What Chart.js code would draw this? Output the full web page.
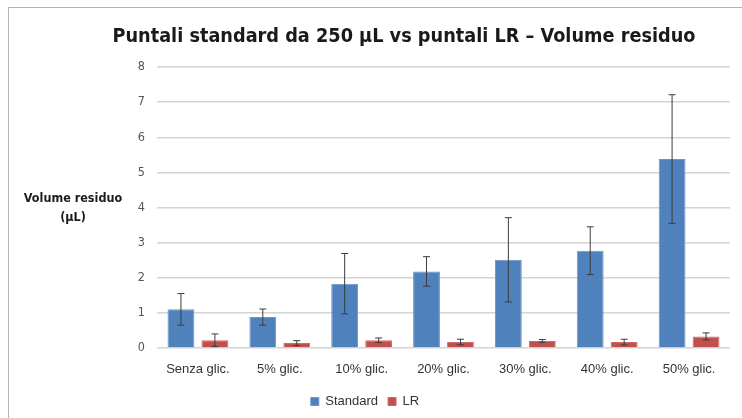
<!DOCTYPE html>
<html>
<head>
<meta charset="utf-8">
<script src="https://cdn.jsdelivr.net/npm/chart.js@4.4.1/dist/chart.umd.min.js"></script>
<style>
  html, body { margin: 0; padding: 0; background: #fff; }
  #frame { position: absolute; left: 8px; top: 7px; width: 800px; height: 450px; border: 1px solid #b4b4b4; }
  #wrap { position: absolute; left: 0; top: 0; width: 742px; height: 418px; }
</style>
</head>
<body>
<div id="frame"></div>
<div id="wrap"><canvas id="chart" width="742" height="418"></canvas></div>
<script>
const categories = ['Senza glic.', '5% glic.', '10% glic.', '20% glic.', '30% glic.', '40% glic.', '50% glic.'];
const standardValues = [1.10, 0.88, 1.83, 2.18, 2.51, 2.77, 5.38];
const standardErrors = [0.45, 0.23, 0.86, 0.42, 1.20, 0.68, 1.83];
const lrValues = [0.22, 0.14, 0.22, 0.17, 0.20, 0.17, 0.33];
const lrErrors = [0.18, 0.07, 0.065, 0.08, 0.04, 0.08, 0.10];
const yTicks = [0, 1, 2, 3, 4, 5, 6, 7, 8];

const titleText = 'Puntali standard da 250 µL vs puntali LR – Volume residuo';
const yTitleLines = ['Volume residuo', '(µL)'];

// error bars drawn on top of the bars, using the y scale
const errorBarPlugin = {
  id: 'errorBars',
  afterDatasetsDraw(chart) {
    const ctx = chart.ctx;
    const yScale = chart.scales.y;
    chart.data.datasets.forEach((ds, i) => {
      const meta = chart.getDatasetMeta(i);
      meta.data.forEach((bar, j) => {
        const v = ds.data[j];
        const e = ds.errors[j];
        const top = yScale.getPixelForValue(v + e);
        const bottom = yScale.getPixelForValue(v - e);
        ctx.save();
        ctx.strokeStyle = '#3c3c3c';
        ctx.lineWidth = 1;
        ctx.beginPath();
        ctx.moveTo(bar.x, top);
        ctx.lineTo(bar.x, bottom);
        ctx.moveTo(bar.x - 3.5, top);
        ctx.lineTo(bar.x + 3.5, top);
        ctx.moveTo(bar.x - 3.5, bottom);
        ctx.lineTo(bar.x + 3.5, bottom);
        ctx.stroke();
        ctx.restore();
      });
    });
  }
};

// chart title and horizontal y-axis title
const textPlugin = {
  id: 'texts',
  afterDraw(chart) {
    const ctx = chart.ctx;
    ctx.save();
    ctx.fillStyle = '#1a1a1a';
    ctx.textAlign = 'center';
    ctx.textBaseline = 'middle';
    ctx.font = 'bold 19.7px "DejaVu Sans Condensed", "DejaVu Sans"';
    ctx.fillText(titleText, 404, 37);
    ctx.font = 'bold 12.5px "DejaVu Sans Condensed", "DejaVu Sans"';
    ctx.fillText(yTitleLines[0], 73, 199);
    ctx.fillText(yTitleLines[1], 73, 218);
    ctx.restore();
  }
};

new Chart(document.getElementById('chart'), {
  type: 'bar',
  data: {
    labels: categories,
    datasets: [
      {
        label: 'Standard',
        data: standardValues,
        errors: standardErrors,
        backgroundColor: '#4f81bd',
        borderColor: '#6a95cc',
        borderWidth: 1,
        categoryPercentage: 0.83,
        barPercentage: 0.79
      },
      {
        label: 'LR',
        data: lrValues,
        errors: lrErrors,
        backgroundColor: '#c0504d',
        borderColor: '#cf6a67',
        borderWidth: 1,
        categoryPercentage: 0.83,
        barPercentage: 0.79
      }
    ]
  },
  options: {
    responsive: false,
    animation: false,
    layout: { padding: { left: 0, right: 12, top: 67, bottom: 0 } },
    plugins: {
      title: { display: false },
      tooltip: { enabled: false },
      legend: {
        position: 'bottom',
        labels: {
          boxWidth: 8,
          boxHeight: 8,
          padding: 10,
          color: '#333',
          font: { family: '"Liberation Sans", Arial', size: 13 }
        }
      }
    },
    scales: {
      x: {
        grid: { display: false, drawTicks: false },
        border: { display: false },
        ticks: {
          color: '#333',
          padding: 14,
          maxRotation: 0,
          font: { family: '"Liberation Sans", Arial', size: 13 }
        },
        afterFit: s => { s.height = 37; }
      },
      y: {
        min: 0,
        max: 8,
        afterBuildTicks: s => { s.ticks = yTicks.map(v => ({ value: v })); },
        grid: { color: '#d4d4d4', lineWidth: 1.5, drawTicks: false },
        border: { display: false },
        ticks: {
          color: '#555',
          padding: 12,
          font: { family: '"DejaVu Sans Condensed", "DejaVu Sans"', size: 12.5 }
        },
        afterFit: s => { s.width = 157; }
      }
    }
  },
  plugins: [errorBarPlugin, textPlugin]
});
</script>
</body>
</html>
